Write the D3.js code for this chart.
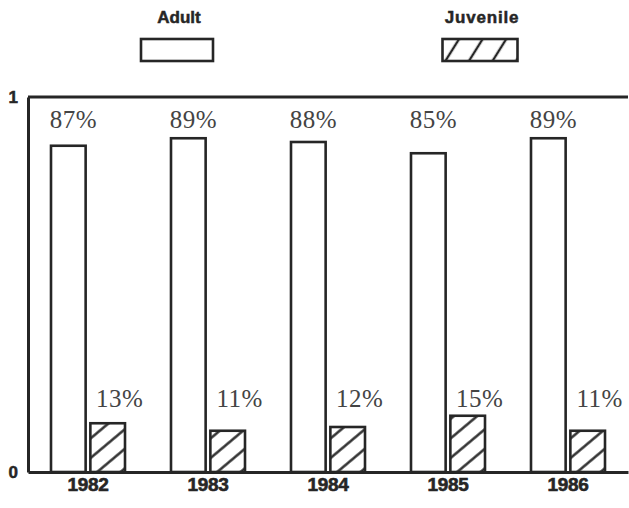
<!DOCTYPE html>
<html><head><meta charset="utf-8">
<script src="https://cdn.jsdelivr.net/npm/d3@7"></script>
<style>
html,body{margin:0;padding:0;background:#fff;}
svg{display:block;}
</style></head>
<body>
<svg id="chart" width="629" height="508"></svg>
<script>
const years = ["1982", "1983", "1984", "1985", "1986"];
const seriesNames = ["Adult", "Juvenile"];
const adultValues = [0.87, 0.89, 0.88, 0.85, 0.89];
const juvenileValues = [0.13, 0.11, 0.12, 0.15, 0.11];
const yTickValues = [0, 1];

const ink = "#262626";
const svg = d3.select("#chart");
const W = 629, H = 508;
const margin = {left: 28, right: 1, top: 97, bottom: 36};

const x = d3.scaleBand().domain(years).range([margin.left, W - margin.right]).padding(0);
const inner = d3.scaleBand().domain(seriesNames).range([-37, 37]).paddingInner(0.12);
const y = d3.scaleLinear().domain([0, 1]).range([H - margin.bottom, margin.top]);

// hatch patterns
const defs = svg.append("defs");
function hatch(id, size, angle) {
  const p = defs.append("pattern")
    .attr("id", id).attr("patternUnits", "userSpaceOnUse")
    .attr("width", size).attr("height", size)
    .attr("patternTransform", `rotate(${angle})`);
  p.append("rect").attr("width", size).attr("height", size).attr("fill", "#fff");
  p.append("line").attr("x1", 0).attr("x2", size).attr("y1", size / 2).attr("y2", size / 2)
    .attr("stroke", ink).attr("stroke-width", 2.4);
}
hatch("hatch", 15, -40);
hatch("hatchL", 20, -58);

// legend
const legend = [
  {name: "Adult", cx: 177, w: 72, fill: "#fff"},
  {name: "Juvenile", cx: 480, w: 75, fill: "url(#hatchL)"}
];
const lg = svg.append("g").selectAll("g").data(legend).join("g");
lg.append("text").attr("x", d => d.cx + 2).attr("y", 23)
  .attr("text-anchor", "middle")
  .attr("font-family", "Liberation Sans, Arial, sans-serif")
  .attr("font-weight", "bold").attr("font-size", 17)
  .attr("letter-spacing", d => d.name === "Juvenile" ? 0.8 : 0)
  .attr("stroke", ink).attr("stroke-width", 0.5)
  .attr("fill", ink).text(d => d.name);
lg.append("rect").attr("x", d => d.cx - d.w / 2).attr("y", 39)
  .attr("width", d => d.w).attr("height", 22)
  .attr("fill", d => d.fill).attr("stroke", ink).attr("stroke-width", 2.6);

// bars
const rows = years.map((yr, i) => ({year: yr, vals: [
  {s: "Adult", v: adultValues[i]}, {s: "Juvenile", v: juvenileValues[i]}]}));

const groups = svg.append("g").selectAll("g").data(rows).join("g")
  .attr("transform", d => `translate(${x(d.year) + x.bandwidth() / 2},0)`);

groups.selectAll("rect").data(d => d.vals).join("rect")
  .attr("x", d => inner(d.s))
  .attr("y", d => y(d.v))
  .attr("width", inner.bandwidth())
  .attr("height", d => y(0) - y(d.v))
  .attr("fill", d => d.s === "Adult" ? "#fff" : "url(#hatch)")
  .attr("stroke", ink).attr("stroke-width", 2.6);

groups.selectAll("text.val").data(d => d.vals).join("text")
  .attr("class", "val")
  .attr("x", d => inner(d.s) + inner.bandwidth() / 2 + (d.s === "Adult" ? 5 : 12))
  .attr("y", d => d.s === "Adult" ? y(1) + 31 : y(0) - 65)
  .attr("text-anchor", "middle")
  .attr("font-family", "Liberation Serif, Times New Roman, serif")
  .attr("font-size", 25).attr("letter-spacing", 0.5)
  .attr("fill", "#444")
  .text(d => Math.round(d.v * 100) + "%");

// frame
svg.append("line").attr("x1", x.range()[0]).attr("x2", x.range()[1])
  .attr("y1", y(1)).attr("y2", y(1)).attr("stroke", ink).attr("stroke-width", 3);

const yAxis = svg.append("g").attr("transform", `translate(${margin.left},0)`)
  .call(d3.axisLeft(y).tickValues(yTickValues).tickSize(0).tickPadding(10).tickFormat(d3.format("d")));
yAxis.select(".domain").attr("stroke", ink).attr("stroke-width", 3);
yAxis.selectAll("text").attr("font-family", "Liberation Sans, Arial, sans-serif")
  .attr("font-weight", "bold").attr("font-size", 17).attr("fill", ink)
  .attr("stroke", ink).attr("stroke-width", 0.5);

const xAxis = svg.append("g").attr("transform", `translate(0,${y(0)})`)
  .call(d3.axisBottom(x).tickSize(0).tickPadding(6));
xAxis.select(".domain").attr("stroke", ink).attr("stroke-width", 3);
xAxis.selectAll("text").attr("font-family", "Liberation Sans, Arial, sans-serif")
  .attr("font-weight", "bold").attr("font-size", 19).attr("letter-spacing", -0.3)
  .attr("stroke", ink).attr("stroke-width", 0.6).attr("fill", ink);
</script>
</body></html>
